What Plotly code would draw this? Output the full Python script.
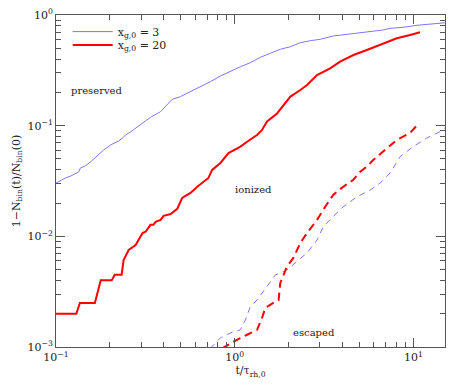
import plotly.graph_objects as go

# x_g,0 = 3, preserved fraction (solid)
t_blue = [0.1, 0.113, 0.121, 0.134, 0.137, 0.146, 0.156, 0.167, 0.178, 0.185, 0.202, 0.224, 0.236,
          0.245, 0.261, 0.279, 0.290, 0.338, 0.385, 0.410, 0.438, 0.447, 0.497, 0.566, 0.644, 0.732,
          0.832, 0.946, 1.077, 1.224, 1.393, 1.583, 1.80, 2.05, 2.33, 2.65, 3.01, 3.56, 4.43, 5.51,
          6.77, 7.41, 8.76, 10.5, 12.4, 15.0]
f_blue = [0.0303, 0.0337, 0.0351, 0.0382, 0.0415, 0.0433, 0.0470, 0.0522, 0.0566, 0.0603, 0.0669,
          0.0727, 0.0774, 0.0824, 0.0877, 0.0953, 0.0994, 0.119, 0.134, 0.148, 0.165, 0.173, 0.183,
          0.203, 0.222, 0.250, 0.281, 0.312, 0.341, 0.371, 0.415, 0.451, 0.490, 0.517, 0.562, 0.586,
          0.603, 0.646, 0.673, 0.702, 0.732, 0.758, 0.774, 0.807, 0.830, 0.851]

# x_g,0 = 20, solid
t_red = [0.1, 0.130, 0.136, 0.165, 0.178, 0.205, 0.213, 0.233, 0.239, 0.255, 0.279, 0.297, 0.305,
         0.317, 0.338, 0.351, 0.361, 0.385, 0.400, 0.438, 0.477, 0.508, 0.566, 0.617, 0.668, 0.713,
         0.748, 0.832, 0.923, 1.077, 1.173, 1.334, 1.422, 1.517, 1.726, 1.878, 2.05, 2.33, 2.54,
         2.89, 3.42, 3.89, 4.62, 5.49, 6.80, 8.08, 9.59, 10.9]
f_red = [0.002, 0.002, 0.0025, 0.0025, 0.004, 0.004, 0.0045, 0.0045, 0.0061, 0.00753, 0.00836,
         0.00988, 0.0107, 0.0110, 0.0127, 0.0127, 0.0135, 0.0141, 0.0153, 0.0159, 0.0177, 0.0222,
         0.0247, 0.0281, 0.0312, 0.0337, 0.0398, 0.0460, 0.0566, 0.0646, 0.0716, 0.0824, 0.0914,
         0.109, 0.129, 0.154, 0.183, 0.210, 0.233, 0.287, 0.330, 0.379, 0.435, 0.483, 0.555, 0.616,
         0.660, 0.698]

# escaped (dashed)
t_red_esc = [0.85, 0.987, 1.173, 1.334, 1.422, 1.485, 1.645, 1.762, 1.80, 1.96, 2.13, 2.33, 2.54,
             2.89, 3.21, 3.56, 4.05, 4.60, 5.04, 5.49, 5.96, 6.77, 8.08, 9.59, 10.4]
f_red_esc = [0.00097, 0.00112, 0.00129, 0.00143, 0.00183, 0.00226, 0.00250, 0.00266, 0.00379,
             0.00532, 0.00638, 0.00871, 0.0107, 0.0141, 0.0185, 0.0237, 0.0281, 0.0323, 0.0384,
             0.0426, 0.0490, 0.0582, 0.0743, 0.0859, 0.0994]

t_blue_esc = [0.73, 0.832, 0.946, 1.077, 1.148, 1.224, 1.334, 1.517, 1.688, 1.96, 2.23, 2.54, 2.89,
              3.13, 3.56, 4.05, 4.83, 5.73, 6.52, 7.41, 8.43, 9.96, 11.9, 14.1, 15.0]
f_blue_esc = [0.00097, 0.00121, 0.00134, 0.00143, 0.00176, 0.00232, 0.00266, 0.00352, 0.00448,
              0.00497, 0.00590, 0.00708, 0.00927, 0.0122, 0.0151, 0.0185, 0.0228, 0.0262, 0.0303,
              0.0374, 0.0525, 0.0646, 0.0774, 0.0883, 0.0953]

BLUE = "#7f74ff"
RED = "#ff0000"
AX = "#555555"
FONT = "DejaVu Serif"

fig = go.Figure()
fig.add_trace(go.Scatter(x=t_blue, y=f_blue, mode="lines", line=dict(color=BLUE, width=1),
                         name="x<sub>g,0</sub> = 3", legend="legend"))
fig.add_trace(go.Scatter(x=t_red, y=f_red, mode="lines", line=dict(color=RED, width=2),
                         name="x<sub>g,0</sub> = 20", legend="legend2"))
fig.add_trace(go.Scatter(x=t_blue_esc, y=f_blue_esc, mode="lines",
                         line=dict(color=BLUE, width=1, dash="6px,5px"), showlegend=False))
fig.add_trace(go.Scatter(x=t_red_esc, y=f_red_esc, mode="lines",
                         line=dict(color=RED, width=2, dash="8px,5px"), showlegend=False))

def minors(lo, hi):
    out = []
    for e in range(lo, hi):
        for m in range(2, 10):
            out.append(m * 10 ** e)
    return out

xmaj = [0.1, 1, 10]
xlab = ["10<sup>−1</sup>", "10<sup>0</sup>", "10<sup>1</sup>"]
ymaj = [0.001, 0.01, 0.1, 1]
ylab = ["10<sup>−3</sup>", "10<sup>−2</sup>", "10<sup>−1</sup>", "10<sup>0</sup>"]

fig.update_xaxes(type="log", range=[-1, 1.177], showgrid=False, zeroline=False, automargin=False,
                 showline=True, linecolor=AX, linewidth=1, mirror="allticks",
                 ticks="inside", ticklen=9, tickcolor=AX, tickvals=xmaj, ticktext=xlab,
                 minor=dict(ticks="inside", ticklen=5, tickcolor=AX, tickvals=minors(-1, 2), showgrid=False),
                 tickfont=dict(family=FONT, size=11, color="#222"),
                 title=dict(text="t/τ<sub>rh,0</sub>", font=dict(family=FONT, size=11, color="#222"), standoff=2))
fig.update_yaxes(type="log", range=[-3, 0], showgrid=False, zeroline=False, automargin=False,
                 showline=True, linecolor=AX, linewidth=1, mirror="allticks",
                 ticks="inside", ticklen=9, tickcolor=AX, tickvals=ymaj, ticktext=ylab,
                 minor=dict(ticks="inside", ticklen=5, tickcolor=AX, tickvals=minors(-3, 0), showgrid=False),
                 tickfont=dict(family=FONT, size=11, color="#222"),
                 title=dict(text="1−N<sub>bin</sub>(t)/N<sub>bin</sub>(0)", font=dict(family=FONT, size=11, color="#222"), standoff=4))

ann_font = dict(family=FONT, size=10, color="#222")
for txt, ax, ay in [("preserved", 0.103, 0.774), ("ionized", 0.508, 0.473), ("escaped", 0.663, 0.045)]:
    fig.add_annotation(text=txt, xref="paper", yref="paper", x=ax, y=ay, xanchor="center",
                       yanchor="middle", showarrow=False, font=ann_font)

leg_common = dict(xanchor="left", yanchor="middle", bgcolor="rgba(0,0,0,0)",
                  font=dict(family=FONT, size=11, color="#222"), itemwidth=40)
fig.update_layout(width=463, height=386, margin=dict(l=56, r=18, t=15, b=39),
                  plot_bgcolor="white", paper_bgcolor="white",
                  legend=dict(x=0.03, y=0.950, **leg_common),
                  legend2=dict(x=0.03, y=0.910, **leg_common),
                  showlegend=True)

fig.write_html("out.html", config={"displayModeBar": False},
               post_script="document.body.style.margin='0';")
